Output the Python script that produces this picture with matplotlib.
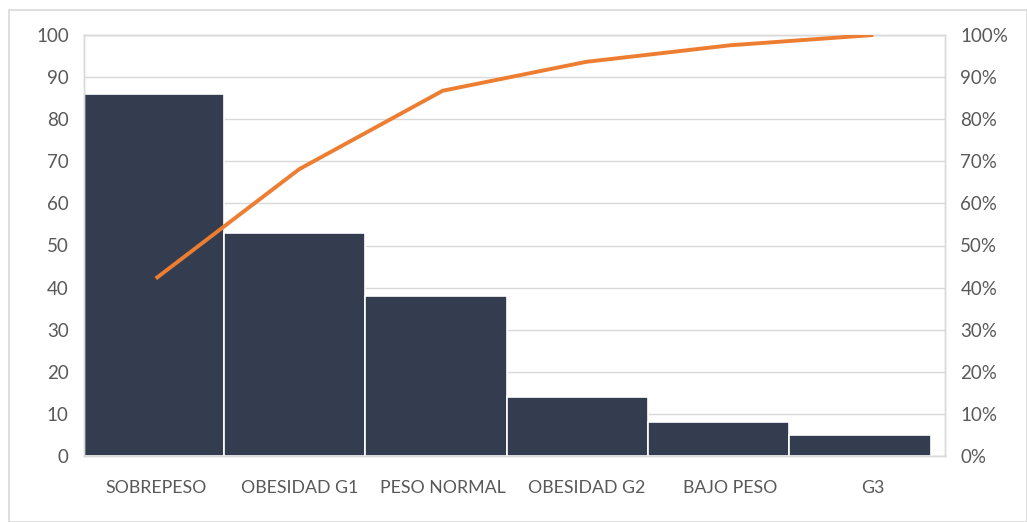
import matplotlib
matplotlib.use("Agg")
import matplotlib.pyplot as plt
from matplotlib.ticker import PercentFormatter, MultipleLocator
from matplotlib.patches import Rectangle
import numpy as np

categories = ["SOBREPESO", "OBESIDAD G1", "PESO NORMAL", "OBESIDAD G2", "BAJO PESO", "G3"]
counts = [86, 53, 38, 14, 8, 5]

cum_pct = np.cumsum(counts) / np.sum(counts)

plt.rcParams['font.family'] = ['Lato', 'DejaVu Sans']

fig = plt.figure(figsize=(10.27, 5.22), dpi=100)
fig.patches.append(Rectangle((9/1027, 0), (1027-9)/1027, 1 - 10/522, transform=fig.transFigure,
                             fill=False, edgecolor="#d9d9d9", linewidth=1.2))
ax = fig.add_axes([84/1027, 1 - 456/522, (945-84)/1027, (456-35)/522])

n = len(categories)
x = np.arange(n)
span_left, span_right = -0.51, 5.40
w = (span_right - span_left) / n
lefts = span_left + np.arange(n) * w
ax.bar(lefts, counts, width=w, align='edge', color="#333d4f", edgecolor="white", linewidth=1.2, zorder=2)

ax.set_xlim(-0.5, n - 0.5)
ax.set_ylim(0, 100)
ax.yaxis.set_major_locator(MultipleLocator(10))
ax.set_xticks(x)
ax.set_xticklabels(categories)
ax.grid(axis='y', color="#d9d9d9", linewidth=1, zorder=0)
ax.set_axisbelow(True)
for s in ax.spines.values():
    s.set_color("#d9d9d9")
    s.set_linewidth(1)
ax.tick_params(axis='y', length=0, pad=11, labelsize=13.5, labelcolor="#595959")
ax.tick_params(axis='x', length=0, pad=17, labelsize=12.8, labelcolor="#595959")

ax2 = ax.twinx()
ax2.plot(x, cum_pct, color="#ed7d31", linewidth=2.8, zorder=3, solid_capstyle='butt')
ax2.set_ylim(0, 1)
ax2.yaxis.set_major_locator(MultipleLocator(0.1))
ax2.yaxis.set_major_formatter(PercentFormatter(1.0, decimals=0))
ax2.tick_params(axis='y', length=0, pad=11, labelsize=13.5, labelcolor="#595959")
for s in ax2.spines.values():
    s.set_color("#d9d9d9")
    s.set_linewidth(1)

fig.savefig("out.png", dpi=100)
